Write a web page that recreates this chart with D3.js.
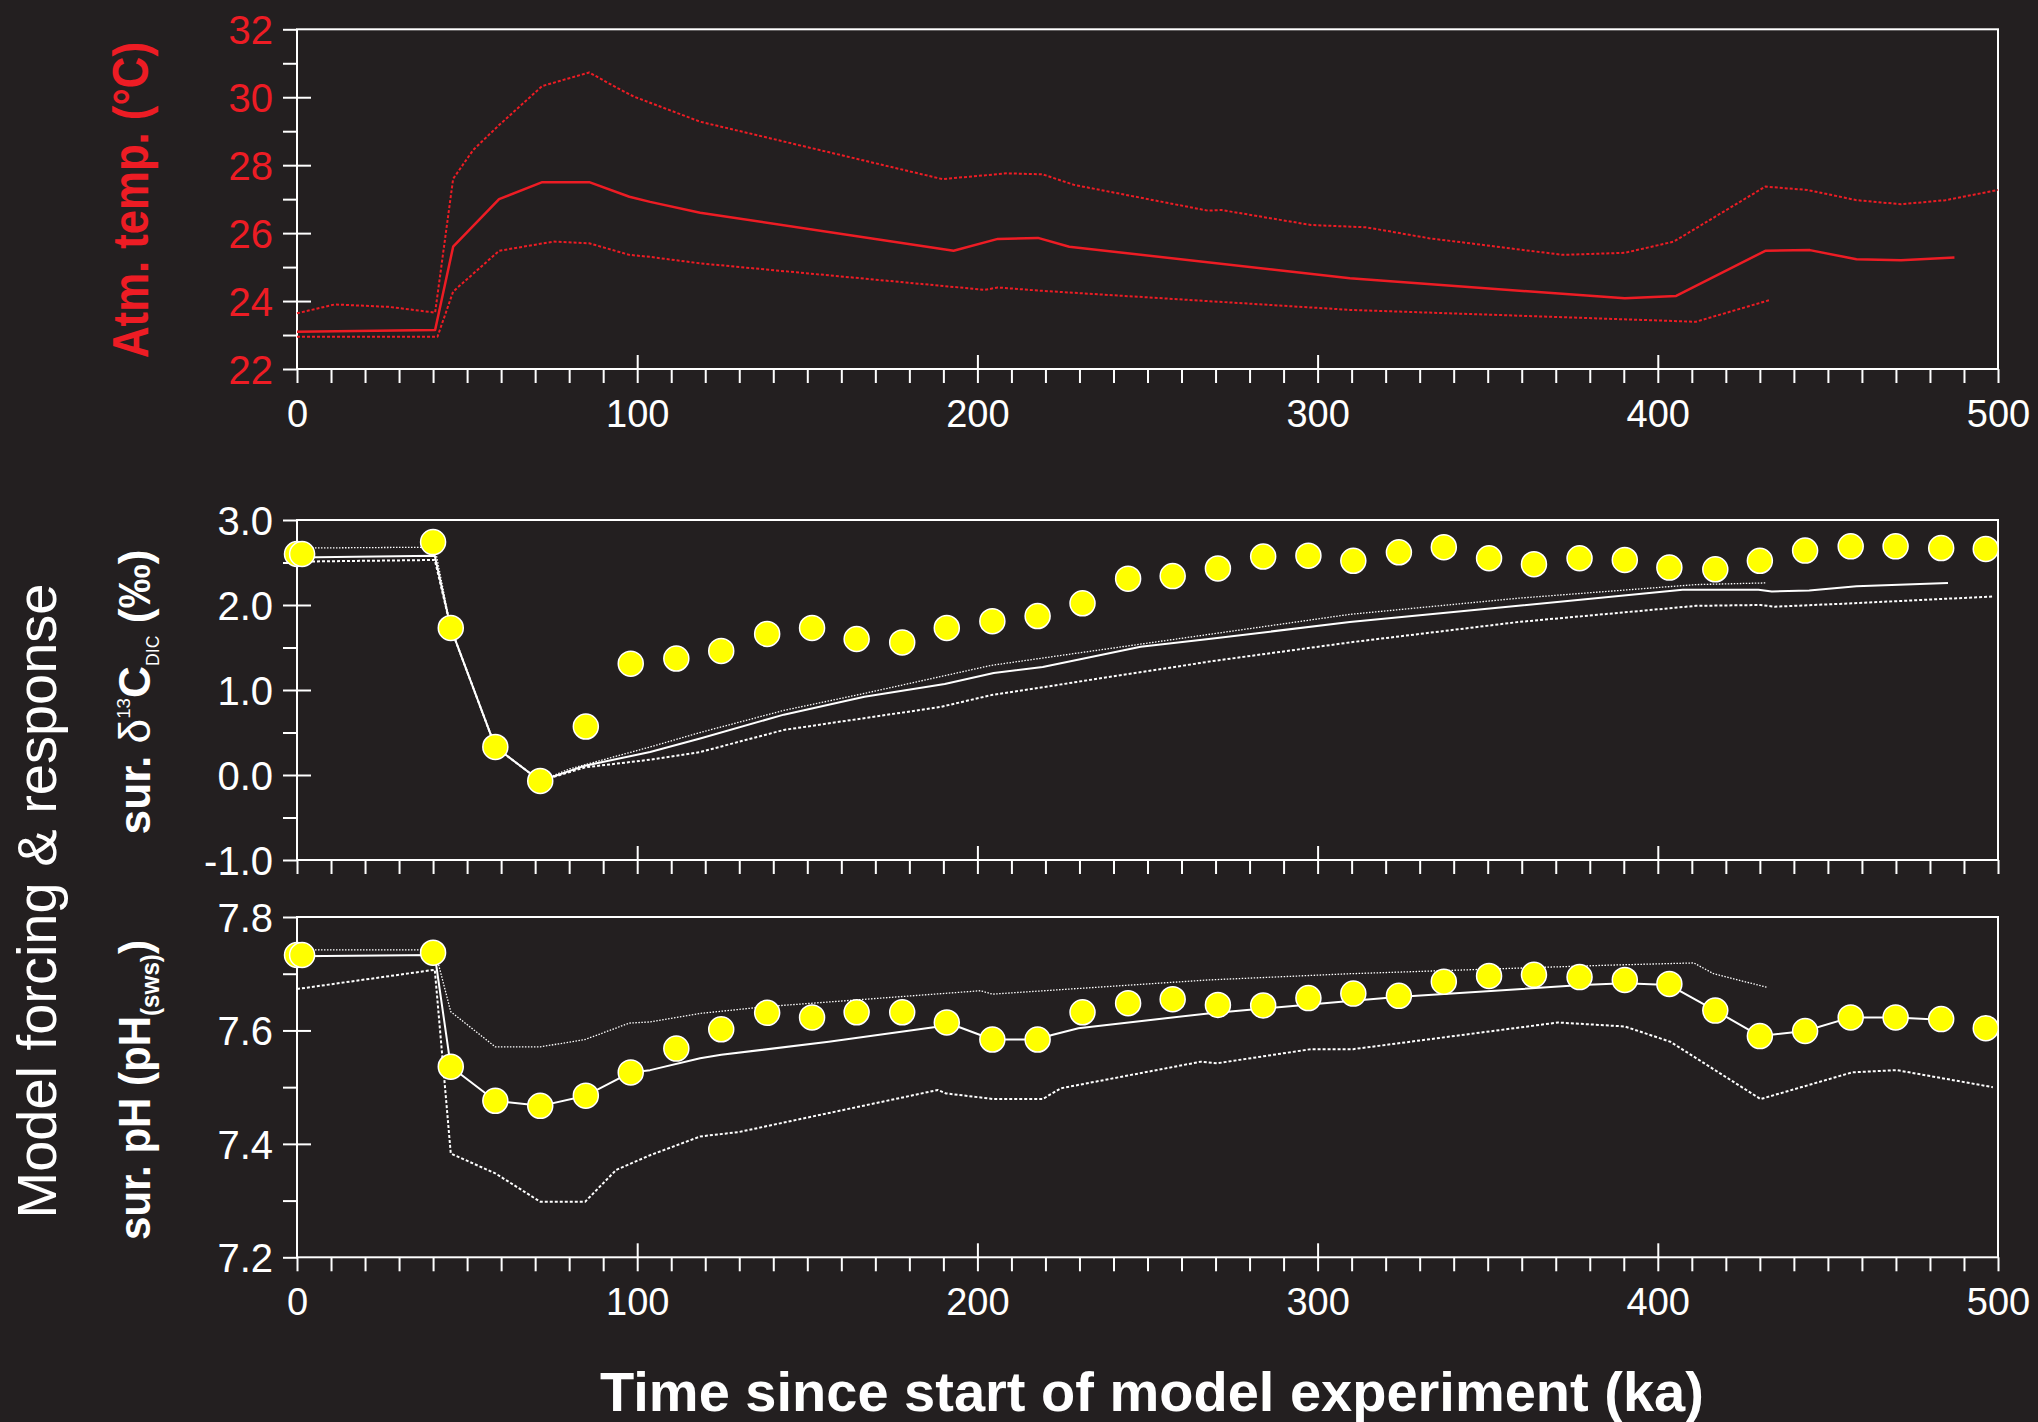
<!DOCTYPE html>
<html>
<head>
<meta charset="utf-8">
<script src="https://cdn.jsdelivr.net/npm/d3@7"></script>
<style>
  html, body { margin: 0; padding: 0; background: #231f20; }
  svg { display: block; font-family: "Liberation Sans", Arial, Helvetica, sans-serif; }
</style>
</head>
<body>
<div id="chart"></div>
<script>
/* DATA */
// atmospheric temperature, central run and two bounds
const tempMid = [[0,23.10],[40.6,23.15],[45.9,25.6],[59.4,27.0],[72.1,27.5],[85.9,27.5],[97.7,27.07],[103.8,26.92],[118.5,26.6],[193,25.48],[206,25.83],[217.8,25.86],[227,25.6],[309.5,24.67],[390.3,24.08],[405.4,24.15],[431.6,25.48],[444.7,25.5],[458.4,25.23],[471.5,25.2],[487.2,25.28]];
const tempHigh = [[0,23.64],[11.1,23.9],[26.9,23.83],[40.6,23.66],[45.9,27.6],[51.8,28.45],[59.4,29.18],[72.1,30.33],[85.9,30.73],[93.8,30.29],[99,30.02],[118.5,29.28],[189.7,27.59],[208.7,27.76],[219.2,27.73],[228.4,27.42],[267.8,26.66],[271.7,26.68],[298,26.24],[314.4,26.17],[332.7,25.85],[372,25.36],[390.3,25.42],[404.7,25.75],[431.6,27.37],[444,27.27],[458.4,26.97],[471.5,26.85],[484.6,26.97],[500,27.27]];
const tempLow = [[0,22.95],[41.3,22.95],[45.9,24.28],[59.4,25.48],[75.4,25.75],[85.9,25.7],[97.7,25.36],[103.8,25.3],[118.5,25.11],[202.2,24.33],[206,24.4],[219.2,24.3],[309.5,23.74],[411.2,23.39],[432.9,24.03]];

// surface d13C of DIC, model run and bounds
const d13Mid = [[0,2.56],[40.5,2.58],[45.2,1.73],[58.3,0.33],[71.5,-0.07],[84.7,0.11],[103.8,0.27],[118.5,0.43],[143.1,0.71],[166.8,0.92],[190.4,1.07],[204.8,1.2],[219.2,1.27],[248,1.51],[268,1.6],[309.5,1.8],[359,1.99],[407.3,2.18],[429.6,2.18],[433.5,2.16],[444.5,2.17],[458.4,2.22],[485.3,2.26]];
const d13High = [[0,2.67],[40.5,2.68],[45.2,1.73],[58.3,0.33],[71.5,-0.07],[80,0.07],[103.8,0.33],[118.5,0.5],[143.1,0.76],[166.8,0.96],[204.1,1.29],[309.5,1.89],[359,2.08],[411.2,2.24],[432,2.26]];
const d13Low = [[0,2.51],[40.5,2.53],[45.2,1.73],[58.3,0.33],[71.5,-0.07],[84.7,0.09],[103.8,0.18],[118.5,0.27],[143.1,0.53],[189.1,0.8],[204.1,0.94],[269.1,1.34],[309.5,1.56],[359,1.8],[411.2,1.99],[430.2,2.0],[434.4,1.98],[457.2,2.02],[498.5,2.1]];

// surface pH, model run and bounds
const phMid = [[0,7.731],[40.5,7.733],[45.2,7.536],[58.3,7.476],[71.7,7.467],[84.9,7.485],[98.1,7.526],[103.8,7.53],[118.5,7.551],[124.7,7.557],[156.3,7.58],[187.7,7.606],[191,7.614],[204.4,7.584],[217.7,7.584],[221.9,7.592],[229.7,7.604],[267.8,7.63],[309.5,7.652],[323.4,7.659],[377.6,7.68],[390.3,7.683],[403.4,7.68],[416.9,7.635],[430,7.59],[443.3,7.599],[456.7,7.623],[469.9,7.623],[483.3,7.619]];
const phHigh = [[0,7.742],[40.5,7.742],[45.2,7.633],[58.3,7.571],[71.5,7.571],[84.7,7.584],[97.7,7.613],[103.8,7.615],[118.5,7.63],[137.9,7.642],[200.9,7.67],[204.4,7.664],[267.8,7.689],[309.5,7.7],[385,7.715],[410.6,7.719],[416.4,7.7],[432.1,7.676]];
const phLow = [[0,7.673],[40.5,7.707],[45.2,7.383],[58.3,7.348],[71.5,7.298],[84.7,7.298],[93.8,7.354],[103.8,7.38],[118.5,7.413],[130,7.421],[188.4,7.495],[190.7,7.489],[204.8,7.479],[219.2,7.479],[224.5,7.498],[265.8,7.545],[270.4,7.542],[298,7.567],[310.5,7.567],[370.7,7.614],[390.3,7.607],[403.7,7.58],[430.2,7.479],[457.1,7.526],[470.2,7.53],[498.5,7.5]];

// proxy data points (yellow dots)
const obsTime = [0,1.5,40,45.2,58.3,71.5,84.9,98.1,111.5,124.7,138.2,151.4,164.5,177.9,191,204.4,217.7,230.9,244.3,257.4,270.7,284,297.3,310.5,323.9,337.1,350.4,363.6,377,390.3,403.4,416.9,430,443.3,456.7,469.9,483.3,496.4];
const obsD13 = [2.6,2.6,2.74,1.73,0.33,-0.07,0.57,1.31,1.37,1.46,1.66,1.73,1.6,1.56,1.73,1.81,1.87,2.02,2.31,2.34,2.43,2.57,2.58,2.52,2.62,2.68,2.55,2.48,2.55,2.53,2.44,2.42,2.52,2.64,2.69,2.69,2.67,2.66];
const obsPH = [7.733,7.733,7.737,7.536,7.476,7.467,7.485,7.526,7.568,7.602,7.631,7.623,7.632,7.632,7.614,7.584,7.584,7.632,7.648,7.655,7.645,7.644,7.657,7.665,7.661,7.686,7.696,7.698,7.694,7.689,7.682,7.635,7.59,7.599,7.623,7.623,7.62,7.604];

// ticks
const xMajor = [0,100,200,300,400,500];
const tempMajor = [22,24,26,28,30,32];
const tempMinor = [23,25,27,29,31];
const d13Major = [-1,0,1,2,3];
const d13Minor = [-0.5,0.5,1.5,2.5];
const phMajor = [7.2,7.4,7.6,7.8];
const phMinor = [7.3,7.5,7.7];

/* CONSTANTS */
const W = 2038, H = 1422;
const RED = '#ed1c24', BG = '#231f20', FG = '#ffffff';
const left = 297, right = 1998;

const svg = d3.select('#chart').append('svg')
  .attr('width', W).attr('height', H)
  .attr('viewBox', `0 0 ${W} ${H}`);
svg.append('rect').attr('width', W).attr('height', H).attr('fill', BG);

const x = d3.scaleLinear().domain([0, 500]).range([left, right]);

const panels = [
  { y: d3.scaleLinear().domain([22, 32]).range([369, 29.3]), major: tempMajor, minor: tempMinor,
    fmt: d => d, labelColor: RED, xLabels: true },
  { y: d3.scaleLinear().domain([-1, 3]).range([860, 520]), major: d13Major, minor: d13Minor,
    fmt: d => d.toFixed(1), labelColor: FG, xLabels: false },
  { y: d3.scaleLinear().domain([7.2, 7.8]).range([1257.3, 917]), major: phMajor, minor: phMinor,
    fmt: d => d.toFixed(1), labelColor: FG, xLabels: true }
];

function styleAxis(g) {
  g.select('.domain').remove();
  g.selectAll('line').attr('stroke', FG).attr('stroke-width', 2);
}

panels.forEach(p => {
  const [yb, yt] = p.y.range();
  const g = svg.append('g');

  // x ticks: every 10 outwards, every 100 also inwards
  g.append('g').attr('transform', `translate(0,${yb})`)
    .call(d3.axisBottom(x).tickValues(d3.range(0, 501, 10)).tickSize(14).tickFormat(''))
    .call(styleAxis);
  g.append('g').attr('transform', `translate(0,${yb})`)
    .call(d3.axisTop(x).tickValues(xMajor.slice(1, -1)).tickSize(14).tickFormat(''))
    .call(styleAxis);
  if (p.xLabels) {
    g.append('g').attr('transform', `translate(0,${yb})`)
      .call(d3.axisBottom(x).tickValues(xMajor).tickSize(0).tickFormat(d => d))
      .call(styleAxis)
      .selectAll('text')
      .attr('y', 58).attr('dy', 0)
      .attr('fill', FG).attr('font-size', 38)
      .attr('font-family', '"Liberation Sans", Arial, sans-serif');
  }

  // y ticks
  g.append('g').attr('transform', `translate(${left},0)`)
    .call(d3.axisLeft(p.y).tickValues(p.major.concat(p.minor)).tickSize(14).tickFormat(''))
    .call(styleAxis);
  g.append('g').attr('transform', `translate(${left},0)`)
    .call(d3.axisRight(p.y).tickValues(p.major.filter(v => v !== p.y.domain()[0] && v !== p.y.domain()[1])).tickSize(14).tickFormat(''))
    .call(styleAxis);
  g.append('g').attr('transform', `translate(${left},0)`)
    .call(d3.axisLeft(p.y).tickValues(p.major).tickSize(0).tickPadding(24).tickFormat(p.fmt))
    .call(styleAxis)
    .selectAll('text')
    .attr('dy', '0.36em')
    .attr('fill', p.labelColor).attr('font-size', 40)
    .attr('font-family', '"Liberation Sans", Arial, sans-serif');

  // frame
  g.append('rect')
    .attr('x', left).attr('y', yt)
    .attr('width', right - left).attr('height', yb - yt)
    .attr('fill', 'none').attr('stroke', FG).attr('stroke-width', 2);
});

/* LINES */
function drawLine(data, y, color, width, dash) {
  svg.append('path')
    .datum(data)
    .attr('fill', 'none')
    .attr('stroke', color)
    .attr('stroke-width', width)
    .attr('stroke-dasharray', dash)
    .attr('stroke-linejoin', 'round')
    .attr('d', d3.line().x(d => x(d[0])).y(d => y(d[1])));
}

const yT = panels[0].y, yD = panels[1].y, yP = panels[2].y;
drawLine(tempHigh, yT, RED, 2, '3,2');
drawLine(tempLow, yT, RED, 2, '3,2');
drawLine(tempMid, yT, RED, 2.5, null);

drawLine(d13High, yD, FG, 1.3, '1.5,1.5');
drawLine(d13Low, yD, FG, 2, '3,2');
drawLine(d13Mid, yD, FG, 2, null);

drawLine(phHigh, yP, FG, 1.3, '1.5,1.5');
drawLine(phLow, yP, FG, 2, '3,2');
drawLine(phMid, yP, FG, 2, null);

/* POINTS */
function drawDots(vals, y) {
  svg.append('g').selectAll('circle')
    .data(obsTime.map((t, i) => [t, vals[i]]))
    .join('circle')
    .attr('cx', d => x(d[0]))
    .attr('cy', d => y(d[1]))
    .attr('r', 12.5)
    .attr('fill', '#ffff00')
    .attr('stroke', FG)
    .attr('stroke-width', 1.5);
}
drawDots(obsD13, yD);
drawDots(obsPH, yP);

/* AXIS TITLES */
// rotated titles are squeezed along the text direction to the measured length
function fitTitle(sel, cx, cy, target) {
  sel.attr('transform', `translate(${cx},${cy}) rotate(-90)`);
  const len = sel.node().getComputedTextLength();
  sel.attr('transform', `translate(${cx},${cy}) rotate(-90) scale(${target / len},1)`);
}

const tA = svg.append('text')
  .attr('text-anchor', 'middle')
  .attr('font-size', 50).attr('font-weight', 'bold')
  .attr('fill', RED)
  .text('Atm. temp. (°C)');
fitTitle(tA, 148, 200, 316);

const tD = svg.append('text')
  .attr('text-anchor', 'middle')
  .attr('font-size', 45).attr('font-weight', 'bold')
  .attr('fill', FG);
tD.append('tspan').text('sur. ');
tD.append('tspan').attr('font-weight', 'normal').text('δ');
tD.append('tspan').attr('font-weight', 'normal').attr('font-size', 19).attr('dy', -20).text('13');
tD.append('tspan').attr('dy', 20).text('C');
tD.append('tspan').attr('font-weight', 'normal').attr('font-size', 18).attr('dy', 9).text('DIC');
tD.append('tspan').attr('dy', -9).text(' (‰)');
fitTitle(tD, 150, 692, 285);

const tP = svg.append('text')
  .attr('text-anchor', 'middle')
  .attr('font-size', 45).attr('font-weight', 'bold')
  .attr('fill', FG);
tP.append('tspan').text('sur. pH (pH');
tP.append('tspan').attr('font-size', 26).attr('dy', 9).text('(sws)');
tP.append('tspan').attr('dy', -9).text(')');
fitTitle(tP, 150, 1090, 300);

svg.append('text')
  .attr('transform', 'translate(56,901) rotate(-90)')
  .attr('text-anchor', 'middle')
  .attr('font-size', 56)
  .attr('fill', FG)
  .text('Model forcing & response');

svg.append('text')
  .attr('x', 1152).attr('y', 1411)
  .attr('text-anchor', 'middle')
  .attr('font-size', 56).attr('font-weight', 'bold')
  .attr('fill', FG)
  .text('Time since start of model experiment (ka)');
</script>
</body>
</html>
